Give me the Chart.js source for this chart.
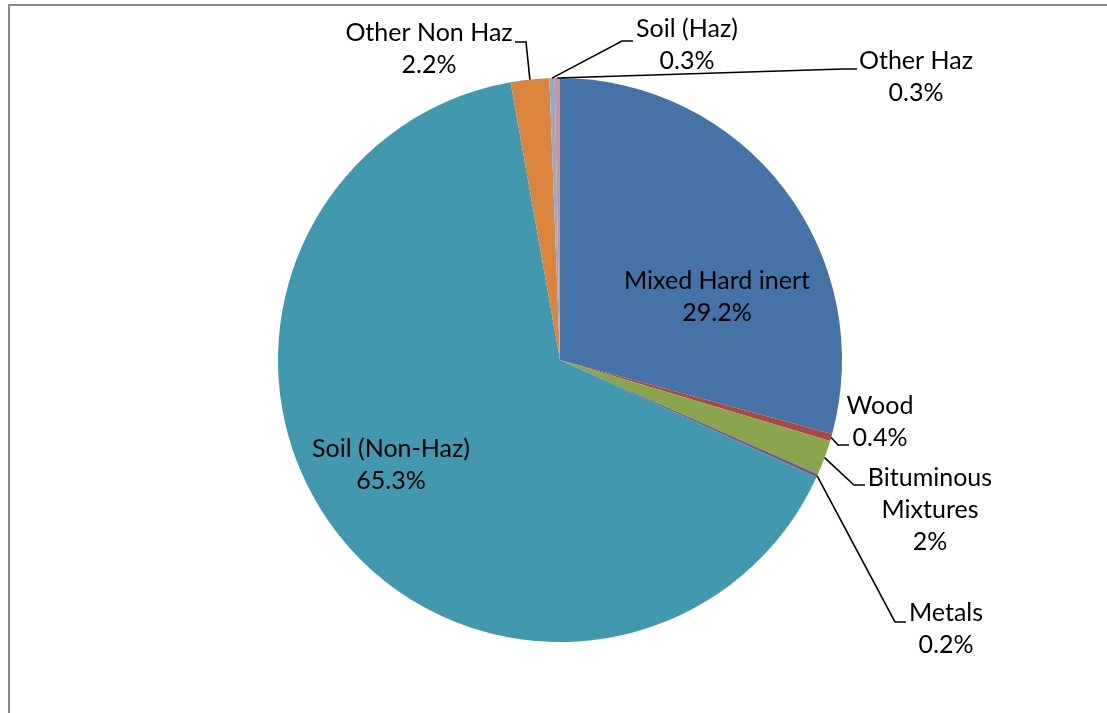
<!DOCTYPE html>
<html>
<head>
<meta charset="utf-8">
<script src="https://cdn.jsdelivr.net/npm/chart.js@4/dist/chart.umd.min.js"></script>
<style>
  html, body { margin: 0; padding: 0; background: #fff; }
  #wrap { position: relative; width: 1107px; height: 713px; }
  #frame { position: absolute; left: 8px; top: 4px; right: 0; bottom: 0;
           border-left: 2px solid #8a8a8a; border-top: 2px solid #8a8a8a; }
  canvas { position: absolute; left: 0; top: 0; }
</style>
</head>
<body>
<div id="wrap">
  <div id="frame"></div>
  <canvas id="pie" width="1107" height="713"></canvas>
</div>
<script>
// waste categories, clockwise from 12 o'clock
var categories = ["Mixed Hard inert", "Wood", "Bituminous Mixtures", "Metals",
                  "Soil (Non-Haz)", "Other Non Haz", "Soil (Haz)", "Other Haz"];
var shares = [29.2, 0.4, 2, 0.2, 65.3, 2.2, 0.3, 0.3]; // percent
var colours = ["#4572A7", "#AA4643", "#89A54E", "#71588F",
               "#4198AF", "#DB843D", "#93A9CF", "#D19392"];

// label placement (pixels): text centre of first line, leader elbow + end (none = inside slice)
var labelLayout = [
  { lines: ["Mixed Hard inert"], x: 717, y: 281 },
  { lines: ["Wood"], x: 880, y: 406, elbow: [838, 445], end: [849, 445] },
  { lines: ["Bituminous", "Mixtures"], x: 930, y: 478, elbow: [854, 485], end: [865, 485] },
  { lines: ["Metals"], x: 946, y: 613, elbow: [895, 622], end: [906, 622] },
  { lines: ["Soil (Non-Haz)"], x: 391, y: 449 },
  { lines: ["Other Non Haz"], x: 429, y: 33, elbow: [526, 42], end: [515, 42] },
  { lines: ["Soil (Haz)"], x: 687, y: 29, elbow: [622, 41], end: [633, 41] },
  { lines: ["Other Haz"], x: 916, y: 61, elbow: [843, 69], end: [857, 69] }
];

var FONT = '25px Lato, "Noto Sans", sans-serif';
var LINE_H = 32;

var pieLabels = {
  id: 'pieLabels',
  afterDraw: function (chart) {
    var ctx = chart.ctx;
    var arcs = chart.getDatasetMeta(0).data;
    ctx.save();
    ctx.font = FONT;
    ctx.fillStyle = '#000';
    ctx.textAlign = 'center';
    ctx.textBaseline = 'middle';
    arcs.forEach(function (arc, i) {
      var lay = labelLayout[i];
      if (lay.elbow) {
        var mid = (arc.startAngle + arc.endAngle) / 2;
        var ax = arc.x + arc.outerRadius * Math.cos(mid);
        var ay = arc.y + arc.outerRadius * Math.sin(mid);
        ctx.beginPath();
        ctx.strokeStyle = '#000';
        ctx.lineWidth = 1.6;
        ctx.moveTo(ax, ay);
        ctx.lineTo(lay.elbow[0], lay.elbow[1]);
        ctx.lineTo(lay.end[0], lay.end[1]);
        ctx.stroke();
      }
      var txt = lay.lines.concat([shares[i] + '%']);
      txt.forEach(function (t, k) {
        ctx.fillText(t, lay.x, lay.y + k * LINE_H);
      });
    });
    ctx.restore();
  }
};

new Chart(document.getElementById('pie'), {
  type: 'pie',
  data: {
    labels: categories,
    datasets: [{
      data: shares,
      backgroundColor: colours,
      borderWidth: 0
    }]
  },
  options: {
    responsive: false,
    animation: false,
    layout: { padding: { top: 78, bottom: 71, left: 278, right: 265 } },
    plugins: {
      legend: { display: false },
      tooltip: { enabled: false }
    }
  },
  plugins: [pieLabels]
});
</script>
</body>
</html>
